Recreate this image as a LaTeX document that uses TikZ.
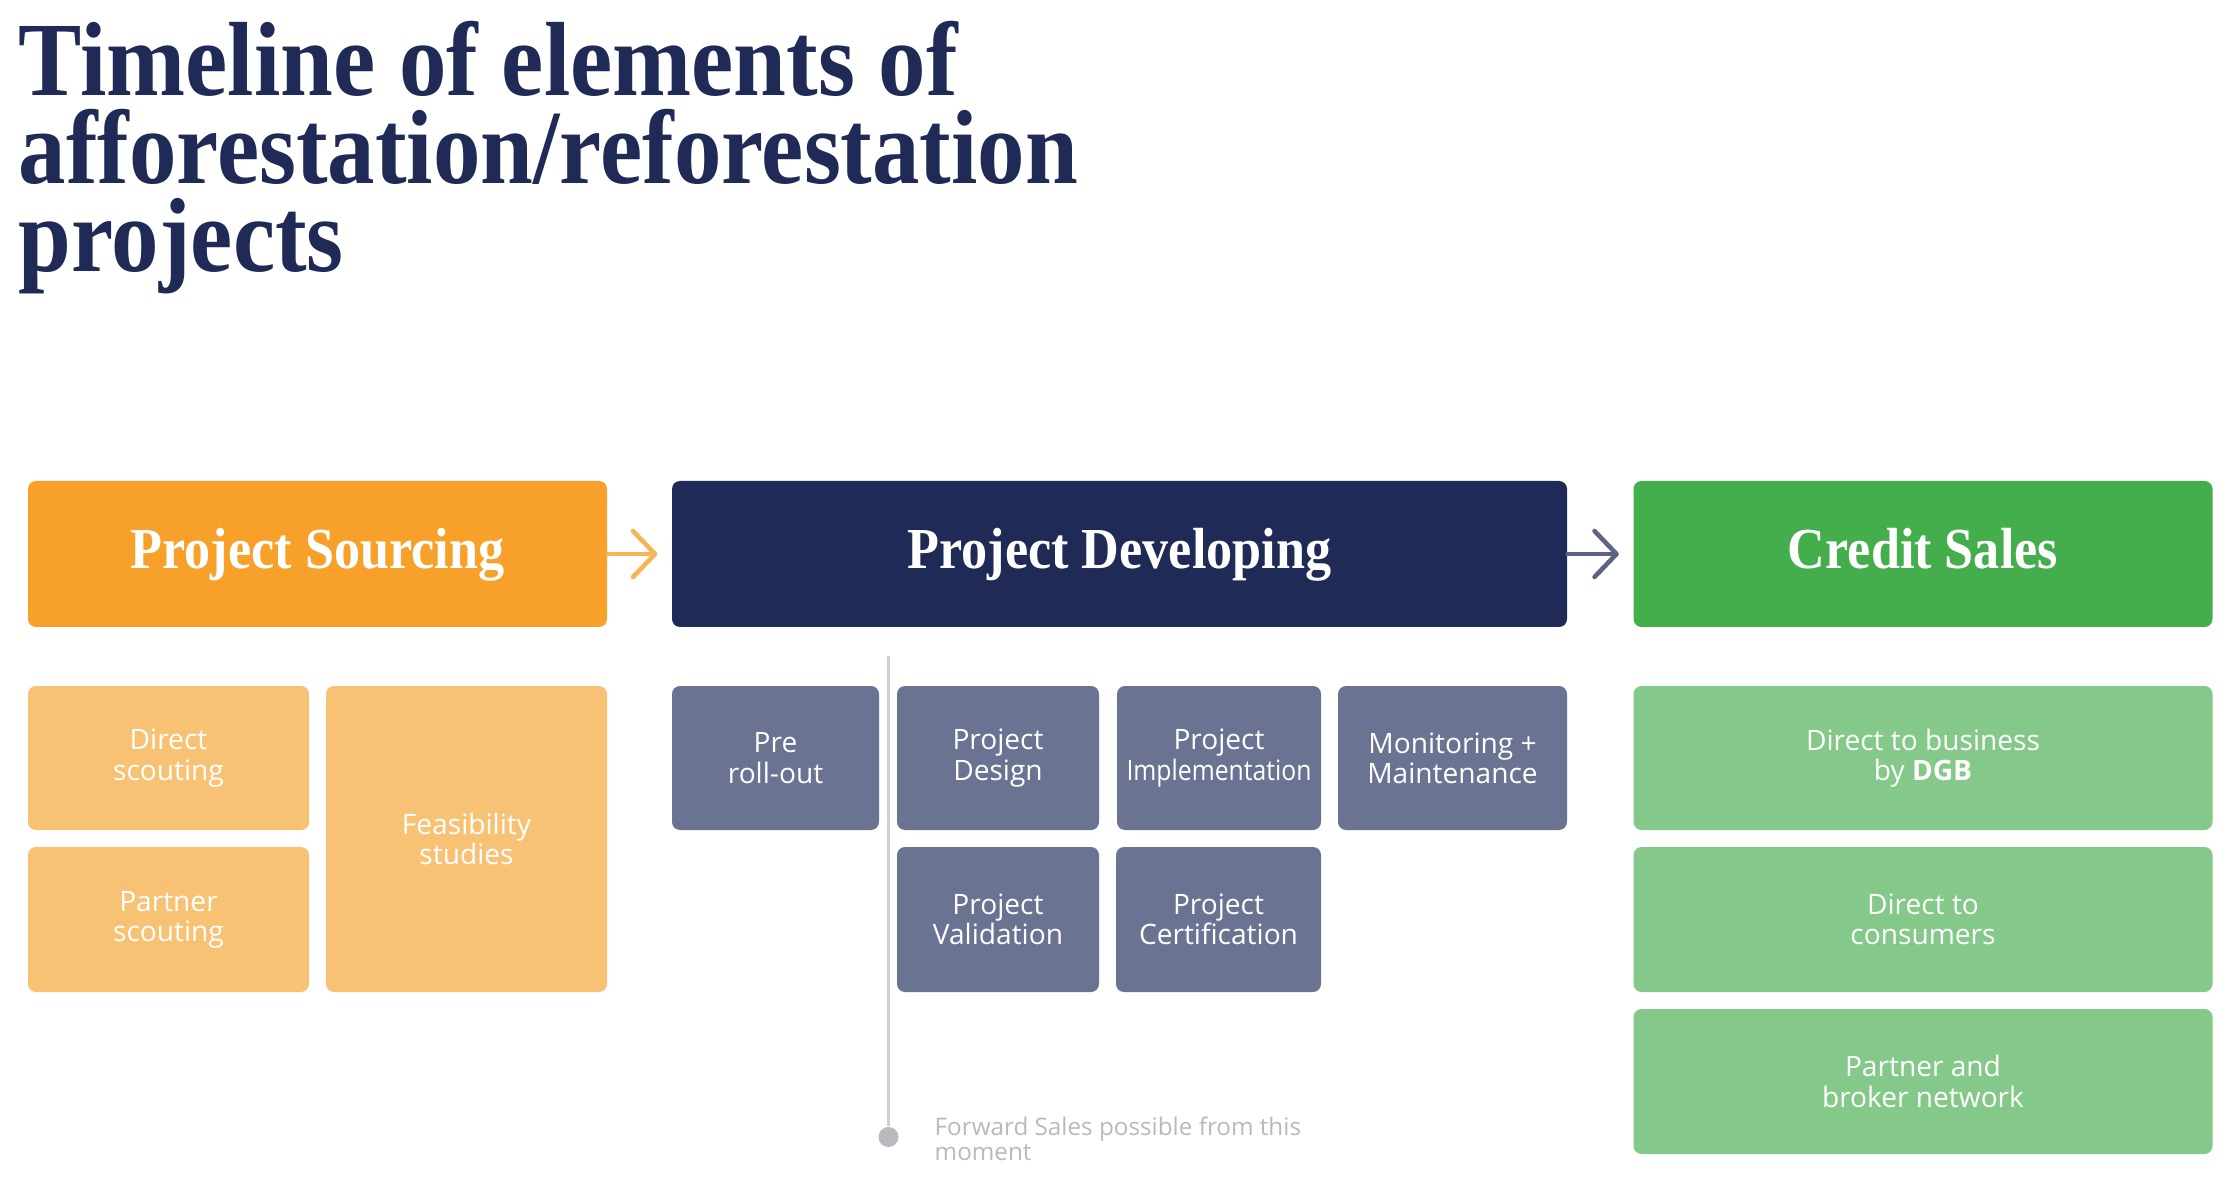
\documentclass[tikz,border=0pt]{standalone}
\usepackage{fontspec}
\setmainfont{Open Sans}
\newfontfamily\serifblack{Liberation Serif}[FakeStretch=0.9]
\usetikzlibrary{arrows.meta}
\definecolor{tlnavy}{HTML}{1F2A56}
\definecolor{tlorange}{HTML}{F7A12B}
\definecolor{tlorangelight}{HTML}{F8C274}
\definecolor{tlslate}{HTML}{6B7392}
\definecolor{tlgreen}{HTML}{43AE4B}
\definecolor{tlgreenlight}{HTML}{84C98A}
\definecolor{tlgrey}{HTML}{CFCFD3}
\tikzset{
  tl head/.style={rounded corners=0.08cm,minimum height=1.46cm,inner sep=0pt,
    text height=11pt,text depth=3pt,
    text=white,font=\serifblack\bfseries\fontsize{16.5}{18}\selectfont},
  tl box/.style={rounded corners=0.08cm,inner sep=0pt,text=white,align=center,
    font=\fontsize{8}{8.6}\selectfont},
  tl arrow/.style={line width=1.3pt,line cap=round,
    -{Straight Barb[length=0.22cm,width=0.46cm,line join=round,line cap=round]}},
  tl note/.style={text=tlgrey!90!black,inner sep=0pt,align=left,
    font=\fontsize{6.9}{7.1}\selectfont}
}
\begin{document}
\begin{tikzpicture}[x=1cm,y=-1cm]
  \useasboundingbox[fill=white] (0,0) rectangle (22.26,11.90);
  \node[anchor=north west,inner sep=0pt,align=left,text=tlnavy,
    font=\serifblack\bfseries\fontsize{30}{25}\selectfont] (title) at (0.18,0.21)
    {Timeline of elements of\\afforestation/reforestation\\projects};
  \node[tl head,fill=tlorange,minimum width=5.79cm] (src) at (3.175,5.54) {Project Sourcing};
  \node[tl head,fill=tlnavy,minimum width=8.95cm] (dev) at (11.195,5.54) {Project Developing};
  \node[tl head,fill=tlgreen,minimum width=5.79cm] (sal) at (19.23,5.54) {Credit Sales};
  \draw[tl arrow,tlorange!80!white,shorten >=0.14cm] (src) -- (dev);
  \draw[tl arrow,tlslate!80!tlnavy,shorten >=0.14cm] (dev) -- (sal);
  \node[tl box,fill=tlorangelight,minimum width=2.81cm,minimum height=1.44cm] (direct) at (1.685,7.58) {Direct\\scouting};
  \node[tl box,fill=tlorangelight,minimum width=2.81cm,minimum height=1.45cm] (partner) at (1.685,9.195) {Partner\\scouting};
  \node[tl box,fill=tlorangelight,minimum width=2.81cm,minimum height=3.06cm] (feas) at (4.665,8.39) {Feasibility\\studies};
  \node[tl box,fill=tlslate,minimum width=2.07cm,minimum height=1.44cm] (pre) at (7.755,7.58) {Pre\\roll-out};
  \node[tl box,fill=tlslate,minimum width=2.02cm,minimum height=1.44cm] (design) at (9.98,7.58) {Project\\Design};
  \node[tl box,fill=tlslate,minimum width=2.04cm,minimum height=1.44cm] (impl) at (12.19,7.58) {Project\\\scalebox{0.88}[1]{Implementation}};
  \node[tl box,fill=tlslate,minimum width=2.29cm,minimum height=1.44cm] (monit) at (14.525,7.58) {Monitoring +\\Maintenance};
  \node[tl box,fill=tlslate,minimum width=2.02cm,minimum height=1.45cm] (valid) at (9.98,9.195) {Project\\Validation};
  \node[tl box,fill=tlslate,minimum width=2.05cm,minimum height=1.45cm] (cert) at (12.185,9.195) {Project\\Certification};
  \node[tl box,fill=tlgreenlight,minimum width=5.79cm,minimum height=1.44cm] (business) at (19.23,7.58) {Direct to business\\by \textbf{DGB}};
  \node[tl box,fill=tlgreenlight,minimum width=5.79cm,minimum height=1.45cm] (consumers) at (19.23,9.195) {Direct to\\consumers};
  \node[tl box,fill=tlgreenlight,minimum width=5.79cm,minimum height=1.45cm] (broker) at (19.23,10.815) {Partner and\\broker network};
  \coordinate (fwdtop) at (8.885,6.56);
  \node[circle,fill=tlgrey!90!black,minimum size=0.2cm,inner sep=0pt] (fwddot) at (8.885,11.37) {};
  \draw[tlgrey,line width=1.1pt] (fwdtop) -- (fwddot);
  \node[tl note,anchor=north west] (fwdnote) at (9.34,11.16) {Forward Sales possible from this\\moment};
\end{tikzpicture}
\end{document}
